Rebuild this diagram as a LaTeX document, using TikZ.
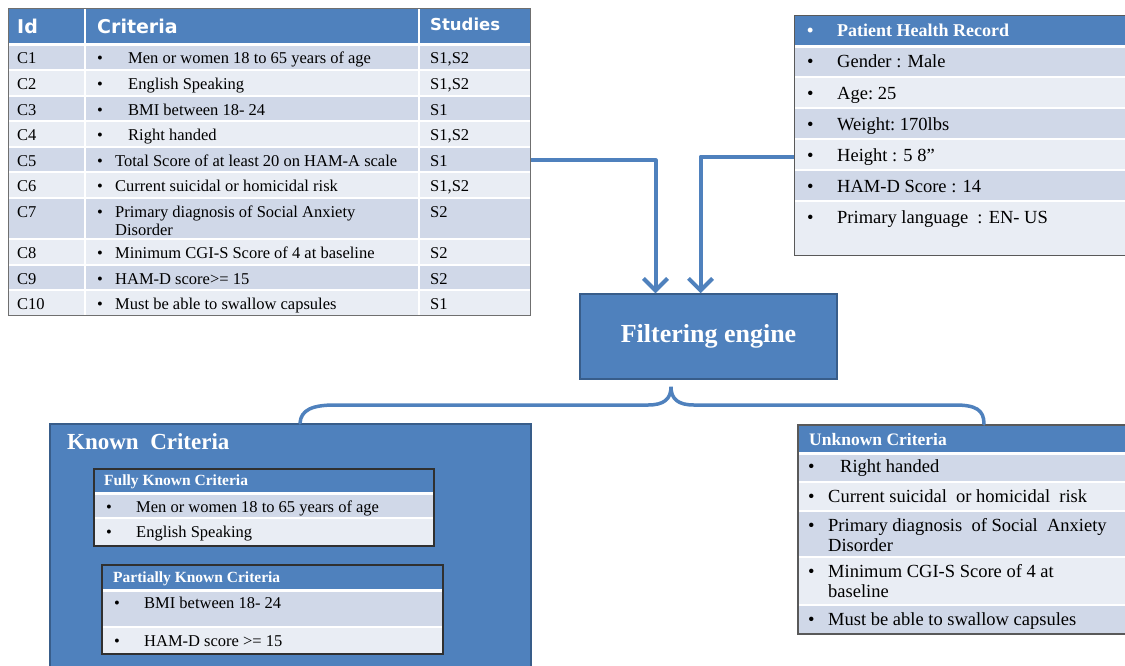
\documentclass[tikz,border=0pt]{standalone}
\usepackage{fontspec}
\setmainfont{Liberation Serif}
\newfontfamily\hdfont{DejaVu Sans}
\usetikzlibrary{arrows.meta,positioning}
\definecolor{HdBlue}{HTML}{4F81BD}
\definecolor{HdEdge}{HTML}{385D8A}
\definecolor{BandA}{HTML}{D0D8E8}
\definecolor{BandB}{HTML}{E9EDF4}
\definecolor{FrameGray}{HTML}{6F6F6F}
\definecolor{FrameDark}{HTML}{303030}
\newcommand\twolines[2]{\begin{tabular}[t]{@{}l@{}}#1\\#2\end{tabular}}

\begin{document}
\begin{tikzpicture}[x=1pt,y=-1pt,
  cell/.style={inner sep=0pt,anchor=base west,font=\fontsize{16.5}{18}\selectfont},
  bigcell/.style={inner sep=0pt,anchor=base west,font=\fontsize{18.5}{20}\selectfont},
  colhead/.style={inner sep=0pt,anchor=base west,text=white,font=\hdfont\bfseries\fontsize{19}{21}\selectfont},
  boxtitle/.style={inner sep=0pt,anchor=base west,text=white,font=\bfseries\fontsize{16.5}{18}\selectfont},
  rowsep/.style={draw=white,line width=2pt},
  tblframe/.style={draw=FrameGray,line width=1.3pt,inner sep=0pt,anchor=north west},
  subframe/.style={draw=FrameDark,line width=1.5pt,inner sep=0pt,anchor=north west},
  engbox/.style={fill=HdBlue,draw=HdEdge,line width=1.5pt,minimum width=257pt,minimum height=85pt,text=white,font=\bfseries\fontsize{26}{28}\selectfont},
  knownbox/.style={fill=HdBlue,draw=HdEdge,line width=1.5pt,inner sep=0pt,anchor=north west},
  flow/.style={draw=HdBlue,line width=4pt,line join=round,-{Straight Barb[length=12pt,width=24pt]}},
  bracket/.style={draw=HdBlue,line width=3.5pt,line cap=round}]
  \useasboundingbox (0,0) rectangle (1125,665);
  \clip (0,0) rectangle (1125,665);

  % criteria table
  \fill[HdBlue] (8,8) rectangle (530,44);
  \node[colhead] (hid) at (17,33) {Id};
  \node[colhead] (hcrit) at (97,33) {Criteria};
  \node[colhead,font=\hdfont\bfseries\fontsize{16.5}{18}\selectfont] (hstud) at (430,30) {Studies};
  \foreach \n/\ya/\yb/\tx/\crit/\stu/\fl in {
    1/44/70/128/{Men or women 18 to 65 years of age}/{S1,S2}/BandA,
    2/70/96/128/{English Speaking}/{S1,S2}/BandB,
    3/96/121/128/{BMI between 18- 24}/{S1}/BandA,
    4/121/147/128/{Right handed}/{S1,S2}/BandB,
    5/147/172/115/{Total Score of at least 20 on HAM-A scale}/{S1}/BandA,
    6/172/198/115/{Current suicidal or homicidal risk}/{S1,S2}/BandB,
    7/198/239/115/{\twolines{Primary diagnosis of Social Anxiety}{Disorder}}/{S2}/BandA,
    8/239/265/115/{Minimum CGI-S Score of 4 at baseline}/{S2}/BandB,
    9/265/290/115/{HAM-D score>= 15}/{S2}/BandA,
    10/290/315/115/{Must be able to swallow capsules}/{S1}/BandB}{
    \fill[\fl] (8,\ya) rectangle (530,\yb);
    \node[cell] (id\n) at (17,{\ya+19}) {C\n};
    \node[cell] (bl\n) at (97,{\ya+19}) {\textbullet};
    \node[cell] (cr\n) at (\tx,{\ya+19}) {\crit};
    \node[cell] (st\n) at (430,{\ya+19}) {\stu};
  }
  \foreach \y in {70,96,121,147,172,198,239,265,290}
    \draw[rowsep] (8,\y) -- (530,\y);
  \draw[rowsep,line width=3pt] (8,44) -- (530,44);
  \draw[rowsep] (85,8) -- (85,315);
  \draw[rowsep] (419,8) -- (419,315);
  \node[tblframe,minimum width=522pt,minimum height=307pt] (tbl) at (8,8) {};

  % patient record
  \fill[HdBlue] (794,15) rectangle (1130,45);
  \node[boxtitle,font=\bfseries\fontsize{18}{20}\selectfont] (phrb) at (807,36) {\textbullet};
  \node[boxtitle,font=\bfseries\fontsize{18}{20}\selectfont] (phrt) at (837,36) {Patient Health Record};
  \foreach \n/\ya/\yb/\txt/\fl in {
    1/45/77/{Gender : Male}/BandA,
    2/77/108/{Age:\ 25}/BandB,
    3/108/139/{Weight:\ 170lbs}/BandA,
    4/139/170/{Height : 5 8”}/BandB,
    5/170/201/{HAM-D Score : 14}/BandA,
    6/201/255/{Primary language \ : EN- US}/BandB}{
    \fill[\fl] (794,\ya) rectangle (1130,\yb);
    \node[bigcell] (pb\n) at (807,{\ya+22}) {\textbullet};
    \node[bigcell] (pr\n) at (837,{\ya+22}) {\txt};
  }
  \foreach \y in {77,108,139,170,201}
    \draw[rowsep] (794,\y) -- (1130,\y);
  \draw[rowsep,line width=3pt] (794,46) -- (1130,46);
  \node[tblframe,draw=FrameDark!80,minimum width=336pt,minimum height=240pt] (phr) at (794,15) {};

  % filtering engine
  \node[engbox] (engine) at (708.5,336.5) {Filtering engine};
  \draw[flow] (tbl.east |- cr5) -| ([xshift=-53pt]engine.north);
  \draw[flow] (phr.west |- pr4) -| ([xshift=-8pt]engine.north);

  % known criteria
  \node[knownbox,minimum width=481pt,minimum height=262pt] (known) at (49,423) {};
  \node[boxtitle,font=\bfseries\fontsize{23}{25}\selectfont] (knownt) at (67,449) {Known\ \ Criteria};

  \fill[HdBlue] (93,468) rectangle (433,493);
  \fill[BandA] (93,493) rectangle (433,518);
  \fill[BandB] (93,518) rectangle (433,545);
  \draw[rowsep,line width=3pt] (93,493) -- (433,493);
  \draw[rowsep] (93,518) -- (433,518);
  \node[subframe,minimum width=340pt,minimum height=77pt] (fully) at (93,468) {};
  \node[boxtitle,font=\bfseries\fontsize{15.5}{17}\selectfont] (fullyt) at (104,485) {Fully Known Criteria};
  \node[cell] (fb1) at (106,512) {\textbullet};
  \node[cell] (fk1) at (136,512) {Men or women 18 to 65 years of age};
  \node[cell] (fb2) at (106,537) {\textbullet};
  \node[cell] (fk2) at (136,537) {English Speaking};

  \fill[HdBlue] (101,564) rectangle (442,590);
  \fill[BandA] (101,590) rectangle (442,627);
  \fill[BandB] (101,627) rectangle (442,653);
  \draw[rowsep,line width=3pt] (101,590) -- (442,590);
  \draw[rowsep] (101,627) -- (442,627);
  \node[subframe,minimum width=341pt,minimum height=89pt] (partial) at (101,564) {};
  \node[boxtitle,font=\bfseries\fontsize{15.5}{17}\selectfont] (partialt) at (113,582) {Partially Known Criteria};
  \node[cell] (pkb1) at (114,608) {\textbullet};
  \node[cell] (pk1) at (144,608) {BMI between 18- 24};
  \node[cell] (pkb2) at (114,646) {\textbullet};
  \node[cell] (pk2) at (144,646) {HAM-D score >= 15};

  % unknown criteria
  \fill[HdBlue] (797,424) rectangle (1130,452);
  \node[boxtitle,font=\bfseries\fontsize{17.5}{19}\selectfont] (unknownt) at (809,445) {Unknown Criteria};
  \foreach \n/\ya/\yb/\tx/\txt/\fl in {
    1/452/482/840/{Right\ handed}/BandA,
    2/482/511/828/{Current suicidal \ or homicidal \ risk}/BandB,
    3/511/557/828/{\twolines{Primary diagnosis \ of Social \ Anxiety}{Disorder}}/BandA,
    4/557/605/828/{\twolines{Minimum CGI-S Score of 4 at}{baseline}}/BandB,
    5/605/633/828/{Must be able to swallow capsules}/BandA}{
    \fill[\fl] (797,\ya) rectangle (1130,\yb);
    \node[bigcell] (ub\n) at (808,{\ya+20}) {\textbullet};
    \node[bigcell] (uk\n) at (\tx,{\ya+20}) {\txt};
  }
  \foreach \y in {482,511,557,605}
    \draw[rowsep] (797,\y) -- (1130,\y);
  \draw[rowsep,line width=3pt] (797,453) -- (1130,453);
  \node[subframe,draw=FrameDark!80,minimum width=333pt,minimum height=209pt] (unknown) at (797,424) {};

  % brace from the engine to both groups
  \coordinate (tip) at ([xshift=-37.5pt,yshift=-7pt]engine.south);
  \coordinate (bl) at (known.north west -| 300,0);
  \coordinate (br) at (unknown.north west -| 984,0);
  \draw[bracket] (bl) .. controls (301,410) and (312,405) .. (335,405) -- (648,405)
    .. controls (664,405) and (671,399) .. (tip)
    .. controls (671,399) and (678,405) .. (694,405) -- (955,405)
    .. controls (976,405) and (984,410) .. (br);
\end{tikzpicture}
\end{document}
